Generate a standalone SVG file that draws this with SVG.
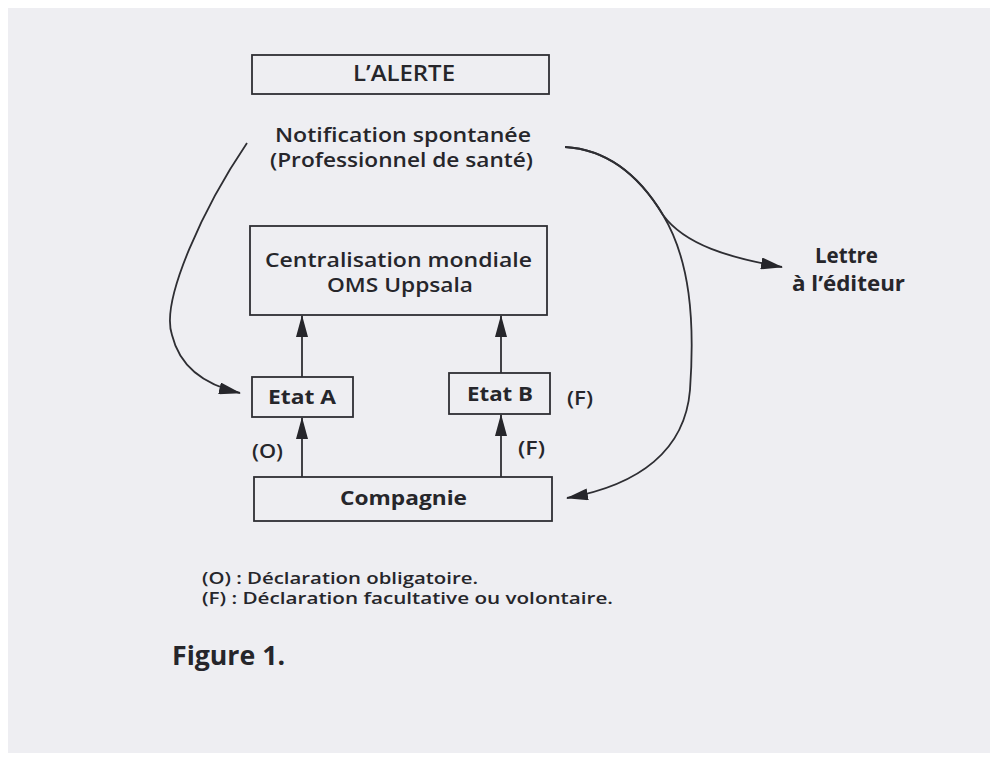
<svg xmlns="http://www.w3.org/2000/svg" width="990" height="762" viewBox="0 0 990 762">
<style>
.t{font-family:"Open Sans","Noto Sans","Liberation Sans",sans-serif;fill:#26262b;font-size:20px;font-weight:600}
.b{font-weight:700}
.box{fill:none;stroke:#2e2e33;stroke-width:1.8}
.ln{fill:none;stroke:#2e2e33;stroke-width:1.8}
</style>
<defs>
<marker id="ah" viewBox="0 0 22 12" refX="21" refY="6" markerWidth="22" markerHeight="12" markerUnits="userSpaceOnUse" orient="auto">
<path d="M0,0 L22,6 L0,12 Z" fill="#26262b"/>
</marker>
</defs>
<rect width="990" height="762" fill="#ffffff"/>
<rect x="8" y="8" width="982" height="745" fill="#eeeef2"/>

<g id="alerte">
<rect class="box" x="252" y="55" width="297" height="39"/>
<text class="t" style="font-size:21px" x="353" y="81" textLength="102" lengthAdjust="spacingAndGlyphs">L’ALERTE</text>
</g>

<g id="notification">
<text class="t" x="275" y="142" textLength="256" lengthAdjust="spacingAndGlyphs">Notification spontanée</text>
<text class="t" x="270" y="167" textLength="263" lengthAdjust="spacingAndGlyphs">(Professionnel de santé)</text>
</g>

<g id="centralisation">
<rect class="box" x="250" y="226" width="297" height="89"/>
<text class="t" x="265" y="267" textLength="267" lengthAdjust="spacingAndGlyphs">Centralisation mondiale</text>
<text class="t" x="327" y="292" textLength="146" lengthAdjust="spacingAndGlyphs">OMS Uppsala</text>
</g>

<g id="etatA">
<rect class="box" x="252" y="377" width="101" height="40"/>
<text class="t b" x="268" y="404" textLength="68" lengthAdjust="spacingAndGlyphs">Etat A</text>
</g>

<g id="etatB">
<rect class="box" x="449" y="373" width="101" height="41"/>
<text class="t b" x="467" y="401" textLength="66" lengthAdjust="spacingAndGlyphs">Etat B</text>
</g>

<g id="compagnie">
<rect class="box" x="254" y="477" width="298" height="44"/>
<text class="t b" x="340" y="505" textLength="127" lengthAdjust="spacingAndGlyphs">Compagnie</text>
</g>

<g id="lettre">
<text class="t b" style="font-size:22px" x="815" y="263" textLength="63" lengthAdjust="spacingAndGlyphs">Lettre</text>
<text class="t b" style="font-size:22px" x="792" y="291" textLength="113" lengthAdjust="spacingAndGlyphs">à l’éditeur</text>
</g>

<g id="labels">
<text class="t" x="567" y="405" textLength="26" lengthAdjust="spacingAndGlyphs">(F)</text>
<text class="t" x="252" y="458" textLength="31" lengthAdjust="spacingAndGlyphs">(O)</text>
<text class="t" x="518" y="455" textLength="27" lengthAdjust="spacingAndGlyphs">(F)</text>
</g>

<g id="connectors">
<line class="ln" x1="302" y1="477" x2="302" y2="418" marker-end="url(#ah)"/>
<line class="ln" x1="302" y1="377" x2="302" y2="316" marker-end="url(#ah)"/>
<line class="ln" x1="501" y1="477" x2="501" y2="415" marker-end="url(#ah)"/>
<line class="ln" x1="501" y1="373" x2="501" y2="316" marker-end="url(#ah)"/>
<path class="ln" d="M247,143 C205,205 160,300 172,335 C180,368 205,385 240,393" marker-end="url(#ah)"/>
<path class="ln" d="M565,147 C615,150 645,185 663,215 C685,245 730,258 782,267" marker-end="url(#ah)"/>
<path class="ln" d="M565,147 C615,150 645,185 663,215 C690,260 695,320 690,390 C685,450 640,485 567,498" marker-end="url(#ah)"/>
</g>

<g id="legend">
<text class="t" style="font-size:16px" x="202" y="584" textLength="276" lengthAdjust="spacingAndGlyphs">(O) : Déclaration obligatoire.</text>
<text class="t" style="font-size:16px" x="202" y="604" textLength="411" lengthAdjust="spacingAndGlyphs">(F) :  Déclaration facultative ou volontaire.</text>
<text class="t b" style="font-size:27px" x="172" y="665" textLength="113" lengthAdjust="spacingAndGlyphs">Figure 1.</text>
</g>
</svg>
